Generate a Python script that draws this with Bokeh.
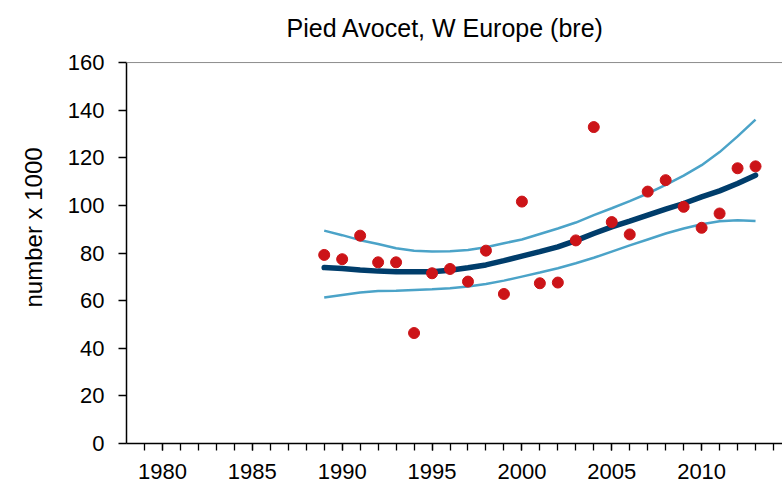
from bokeh.plotting import figure
from bokeh.models import FixedTicker, Span, Range1d, Title
from bokeh.embed import file_html
from bokeh.resources import INLINE

# ---- data ----
years = list(range(1989, 2014))
counts = [79.2, 77.4, 87.3, 76.1, 76.1, 46.4, 71.5, 73.3, 68.0, 81.0, 62.8, 101.6,
          67.3, 67.6, 85.3, 132.9, 93.0, 87.8, 105.8, 110.6, 99.4, 90.6, 96.6, 115.6, 116.4]
trend = [73.9, 73.5, 72.9, 72.4, 72.1, 72.1, 72.1, 72.8, 73.8, 75.0, 76.8, 78.7,
         80.6, 82.6, 85.2, 88.2, 91.0, 93.4, 95.9, 98.4, 100.8, 103.6, 106.1, 109.2, 112.7]
upper = [89.4, 87.5, 85.4, 83.8, 82.0, 81.0, 80.6, 80.7, 81.3, 82.4, 84.1, 85.7,
         88.0, 90.3, 92.8, 95.9, 98.8, 101.8, 105.0, 108.6, 112.5, 116.9, 122.4, 129.0, 136.0]
lower = [61.3, 62.4, 63.4, 64.0, 64.2, 64.5, 64.8, 65.2, 65.9, 67.0, 68.4, 70.1,
         71.8, 73.6, 75.7, 78.0, 80.6, 83.2, 85.7, 88.2, 90.3, 92.1, 93.3, 93.8, 93.5]
x_major_ticks = [1980, 1985, 1990, 1995, 2000, 2005, 2010]
x_minor_ticks = list(range(1979, 2015))
y_ticks = [0, 20, 40, 60, 80, 100, 120, 140, 160]
title_text = "Pied Avocet, W Europe (bre)"
ylabel_text = "number x 1000"

FONT = "Liberation Sans"

# the y range reaches a little above 160 so the title has room; the axis itself stops at 160
p = figure(width=782, height=489, output_backend="svg", toolbar_location=None,
           x_range=Range1d(1978, 2014.5), y_range=Range1d(0, 168),
           min_border_left=125, min_border_right=0, min_border_top=43, min_border_bottom=46)
p.outline_line_color = None
p.xgrid.visible = False
p.ygrid.visible = False
p.background_fill_color = "white"
p.border_fill_color = "white"

# title
p.title = Title(text=title_text, align="left", offset=160, standoff=4,
                text_font=FONT, text_font_size="25px", text_font_style="normal",
                text_color="black")
# y label as a left-side title
p.add_layout(Title(text=ylabel_text, align="left", offset=136, standoff=35,
                   text_font=FONT, text_font_size="24px", text_font_style="normal",
                   text_color="black"), "left")

# axes
xa = p.xaxis[0]
xa.ticker = FixedTicker(ticks=x_major_ticks, minor_ticks=x_minor_ticks)
xa.major_tick_in = 0
xa.major_tick_out = 7
xa.minor_tick_in = 0
xa.minor_tick_out = 7
xa.major_label_standoff = 13
xa.major_label_text_font = FONT
xa.major_label_text_font_size = "22px"
xa.major_label_text_color = "black"
xa.axis_line_color = "black"
xa.axis_line_width = 1.5
xa.major_tick_line_color = "black"
xa.major_tick_line_width = 1.3
xa.minor_tick_line_color = "black"
xa.minor_tick_line_width = 1.3

ya = p.yaxis[0]
ya.ticker = FixedTicker(ticks=y_ticks)
ya.bounds = (0, 160)
ya.major_tick_in = 0
ya.major_tick_out = 8
ya.minor_tick_out = 0
ya.minor_tick_in = 0
ya.major_label_standoff = 14
ya.major_label_text_font = FONT
ya.major_label_text_font_size = "22px"
ya.major_label_text_color = "black"
ya.axis_line_color = "black"
ya.axis_line_width = 1.5
ya.major_tick_line_color = "black"
ya.major_tick_line_width = 1.3

# gray top border at 160
p.add_layout(Span(location=160, dimension="width", line_color="#8c8c8c", line_width=1))

# confidence band lines
p.line(years, upper, line_color="#4ba3c8", line_width=2.5)
p.line(years, lower, line_color="#4ba3c8", line_width=2.5)
# trend
p.line(years, trend, line_color="#003d6b", line_width=5.5, line_cap="round")
# points
p.scatter(years, counts, size=11, fill_color="#cc1418", line_color="#cc1418")

open("out.html", "w").write(file_html(p, INLINE))
